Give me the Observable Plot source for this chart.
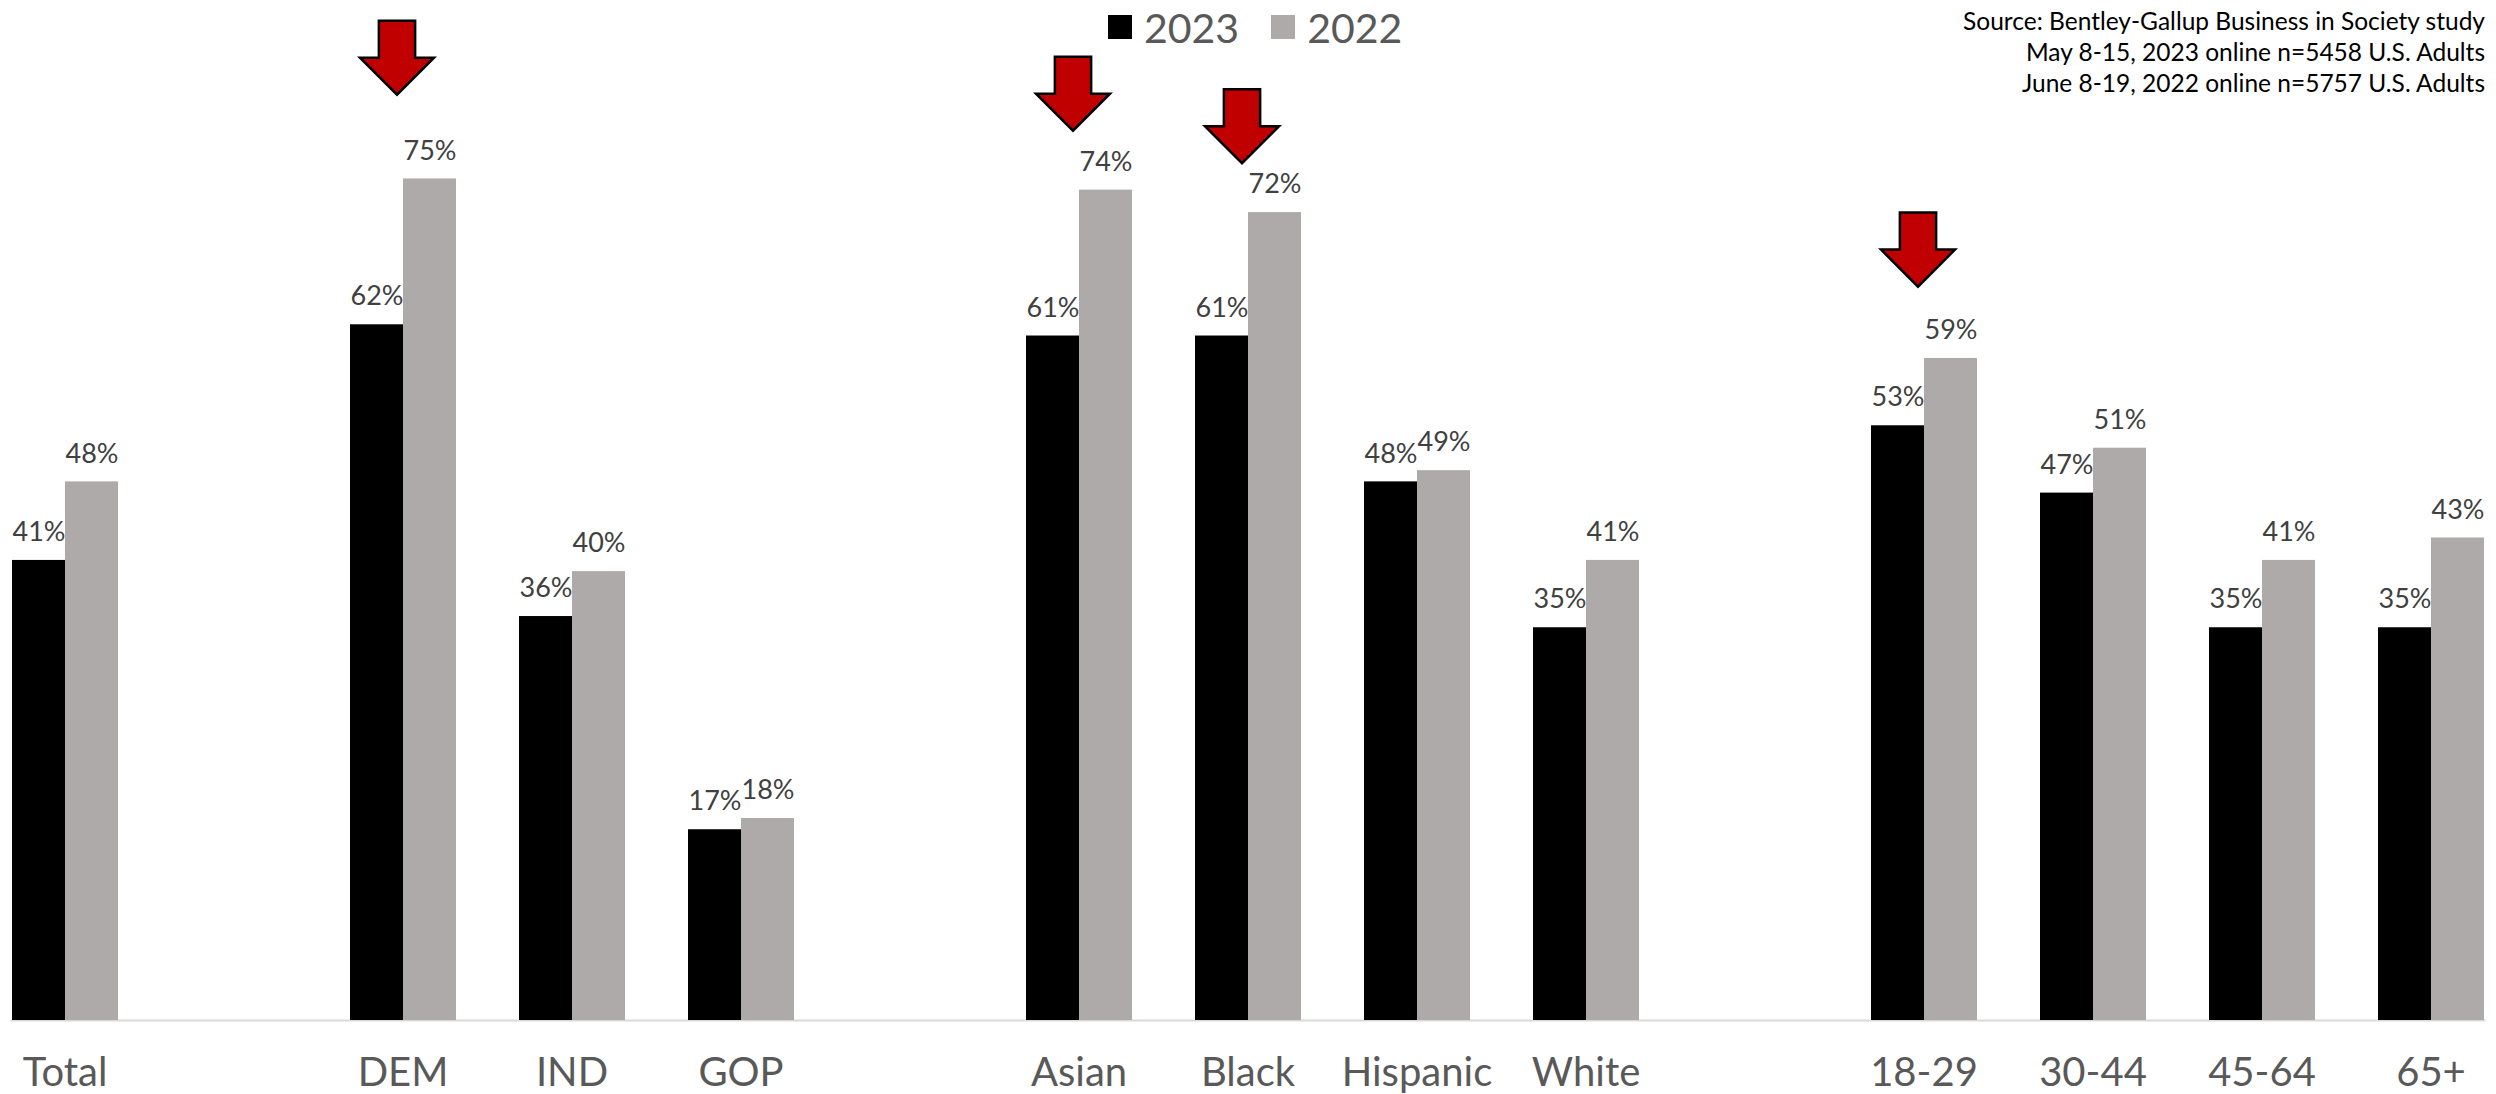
<!DOCTYPE html>
<html><head><meta charset="utf-8">
<script src="https://cdn.jsdelivr.net/npm/d3@7"></script>
<script src="https://cdn.jsdelivr.net/npm/@observablehq/plot@0.6"></script>
<style>
html,body{margin:0;padding:0;background:#fff;}
#wrap{position:relative;width:2496px;height:1094px;overflow:hidden;font-family:Lato,"Open Sans",sans-serif;}
#chart{position:absolute;left:0;top:0;}
#legend{position:absolute;left:1108px;top:5px;display:flex;align-items:center;height:44px;color:#595959;font-size:41px;}
#legend .sw{width:24px;height:24px;margin-right:12px;}
#legend .lab{margin-right:32px;line-height:1;}
#source{position:absolute;right:11px;top:5px;text-align:right;font-size:24.5px;line-height:31px;color:#000;}
</style></head><body>
<div id="wrap"><div id="chart"></div><div id="legend"></div><div id="source"></div></div>
<script>
// ---- data ----
const groups = [
  ["Total"],
  ["DEM", "IND", "GOP"],
  ["Asian", "Black", "Hispanic", "White"],
  ["18-29", "30-44", "45-64", "65+"]
];
const categories = groups.flat();
const years = ["2023", "2022"];
const values2023 = [41, 62, 36, 17, 61, 61, 48, 35, 53, 47, 35, 35];
const values2022 = [48, 75, 40, 18, 74, 72, 49, 41, 59, 51, 41, 43];
const arrowCategories = ["DEM", "Asian", "Black", "18-29"];
const arrowLevels = [85.8, 82.6, 79.7, 68.7];
const yearColors = ["#000000", "#AEAAAA"];
const sourceLines = [
  "Source: Bentley-Gallup Business in Society study",
  "May 8-15, 2023 online n=5458 U.S. Adults",
  "June 8-19, 2022 online n=5757 U.S. Adults"
];

// ---- build tables ----
const slots = [];
groups.forEach((g, i) => { if (i > 0) slots.push(" ".repeat(i)); slots.push(...g); });
const rows = [];
categories.forEach((c, i) => {
  rows.push({cat: c, year: "2023", value: values2023[i]});
  rows.push({cat: c, year: "2022", value: values2022[i]});
});
const arrows = arrowCategories.map((c, i) => ({cat: c, level: arrowLevels[i]}));

const arrowSymbol = {
  draw(ctx, size) {
    const r = Math.sqrt(size / Math.PI);
    const w = r, h = r, s = 0.49 * r;
    ctx.moveTo(-s, -h); ctx.lineTo(s, -h); ctx.lineTo(s, 0); ctx.lineTo(w, 0);
    ctx.lineTo(0, h); ctx.lineTo(-w, 0); ctx.lineTo(-s, 0); ctx.closePath();
  }
};

const FONT = 'Lato, "Open Sans", sans-serif';
const chart = Plot.plot({
  width: 2496,
  height: 1094,
  marginTop: 0,
  marginBottom: 74,
  marginLeft: 0,
  marginRight: 0,
  style: {fontFamily: FONT, background: "white"},
  fx: {domain: slots, range: [9, 2485], paddingInner: 0.368, paddingOuter: 0, label: null},
  x: {domain: years, padding: 0, axis: null},
  y: {domain: [0, 90.9], axis: null},
  color: {domain: years, range: yearColors},
  marks: [
    Plot.frame({facet: "super", anchor: "bottom", stroke: "#D9D9D9", strokeWidth: 2}),
    Plot.barY(rows, {fx: "cat", x: "year", y: "value", fill: "year"}),
    Plot.text(rows, {fx: "cat", x: "year", y: "value", text: d => d.value + "%", dy: -28, fontSize: 27, fill: "#404040"}),
    Plot.dot(arrows, {fx: "cat", y: "level", symbol: arrowSymbol, r: 37, fill: "#C00000", stroke: "#000000", strokeWidth: 2.5, strokeLinejoin: "miter", dx: -6}),
    Plot.axisFx({anchor: "bottom", tickSize: 0, tickPadding: 37, fontSize: 40, fill: "#595959", label: null, tickFormat: d => d.trim() === "" ? "" : d})
  ]
});
document.getElementById("chart").appendChild(chart);

// legend
const legend = document.getElementById("legend");
years.forEach((y, i) => {
  const sw = document.createElement("div");
  sw.className = "sw";
  sw.style.background = yearColors[i];
  const lab = document.createElement("div");
  lab.className = "lab";
  lab.textContent = y;
  legend.appendChild(sw);
  legend.appendChild(lab);
});
// source
const src = document.getElementById("source");
sourceLines.forEach(t => { const d = document.createElement("div"); d.textContent = t; src.appendChild(d); });
</script>
</body></html>
